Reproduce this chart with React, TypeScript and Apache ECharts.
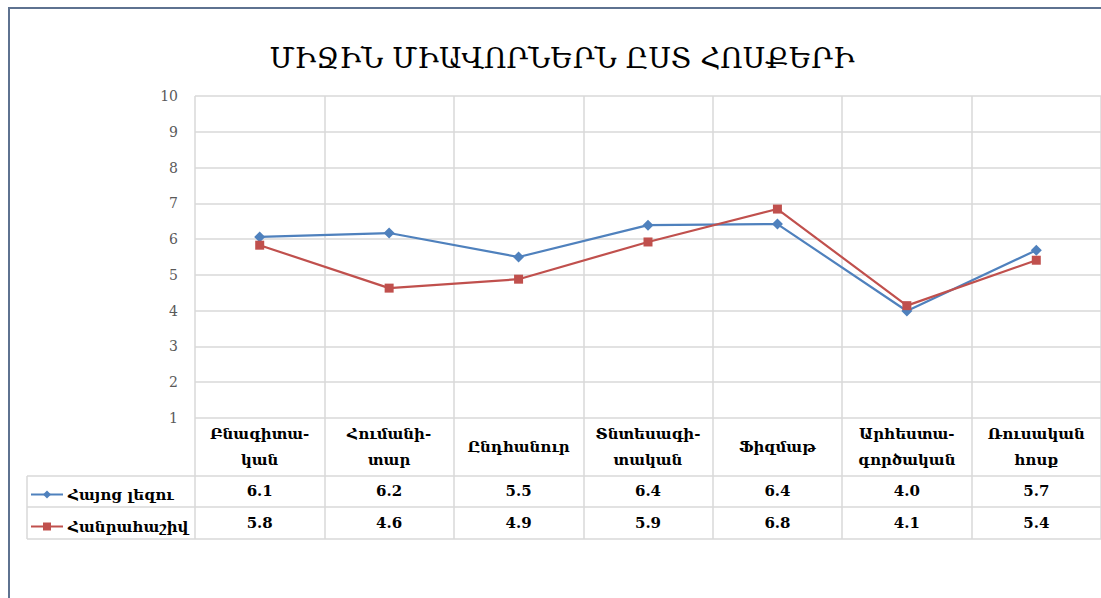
import React, { useEffect, useRef } from "react";
import * as echarts from "echarts";

const TITLE = "ՄԻՋԻՆ ՄԻԱՎՈՐՆԵՐՆ ԸՍՏ ՀՈՍՔԵՐԻ";
const categories = [
  "Բնագիտա-\nկան",
  "Հումանի-\nտար",
  "Ընդհանուր",
  "Տնտեսագի-\nտական",
  "Ֆիզմաթ",
  "Արհեստա-\nգործական",
  "Ռուսական\nհոսք",
];
const seriesNames = ["Հայոց լեզու", "Հանրահաշիվ"];
const armenianLang = [6.06, 6.17, 5.5, 6.39, 6.42, 3.99, 5.69];
const algebra = [5.83, 4.63, 4.88, 5.92, 6.84, 4.14, 5.41];
const yMin = 1;
const yMax = 10;
const yStep = 1;

const ARM_FONT = "'DejaVu Serif', serif";
const NUM_FONT = "'DejaVu Serif', serif";
const GRID_COLOR = "#D9D9D9";

export default function App() {
  const ref = useRef<HTMLDivElement>(null);
  useEffect(() => {
    document.body.style.margin = "0";
    const chart = echarts.init(ref.current!, null, { renderer: "svg" });
    const tableLines = [476, 507, 539].map((y) => ({
      type: "line",
      shape: { x1: 27, y1: y, x2: 1101, y2: y },
      style: { stroke: GRID_COLOR, lineWidth: 1.5 },
      silent: true,
    }));
    const valueAxis = (arr: number[], margin: number) => ({
      type: "category",
      data: categories,
      position: "bottom",
      boundaryGap: true,
      axisLine: { show: false },
      axisTick: { show: false },
      splitLine: { show: false },
      axisLabel: {
        interval: 0,
        margin,
        verticalAlign: "middle",
        fontFamily: NUM_FONT,
        fontWeight: "bold",
        fontSize: 15,
        color: "#000",
        formatter: (_v: string, i: number) => arr[i].toFixed(1),
      },
    });
    const legendText = { fontFamily: ARM_FONT, fontWeight: "bold", fontSize: 15, color: "#000" };
    chart.setOption({
      animation: false,
      backgroundColor: "#fff",
      title: {
        text: TITLE,
        left: 557,
        top: 39,
        textAlign: "center",
        textStyle: {
          fontFamily: ARM_FONT,
          fontWeight: "normal",
          fontSize: 28,
          color: "#000",
        },
      },
      legend: [
        {
          data: [seriesNames[0]],
          left: 25,
          top: 482,
          itemWidth: 32,
          itemHeight: 10,
          selectedMode: false,
          textStyle: legendText,
        },
        {
          data: [seriesNames[1]],
          left: 25,
          top: 514,
          itemWidth: 32,
          itemHeight: 10,
          selectedMode: false,
          textStyle: legendText,
        },
      ],
      grid: { left: 195, right: -3, top: 96, height: 322, containLabel: false },
      xAxis: [
        {
          type: "category",
          data: categories,
          boundaryGap: true,
          axisLine: { show: false },
          axisTick: {
            show: true,
            length: 121,
            lineStyle: { color: GRID_COLOR, width: 1.5 },
          },
          splitLine: { show: true, lineStyle: { color: GRID_COLOR, width: 1.5 } },
          axisLabel: {
            interval: 0,
            margin: 29,
            verticalAlign: "middle",
            lineHeight: 26,
            fontFamily: ARM_FONT,
            fontWeight: "bold",
            fontSize: 15,
            color: "#000",
          },
        },
        valueAxis(armenianLang, 73),
        valueAxis(algebra, 105),
      ],
      yAxis: {
        type: "value",
        min: yMin,
        max: yMax,
        interval: yStep,
        axisLine: { show: false },
        axisTick: { show: false },
        splitLine: { show: true, lineStyle: { color: GRID_COLOR, width: 1.5 } },
        axisLabel: {
          margin: 17,
          fontFamily: NUM_FONT,
          fontSize: 14,
          color: "#595959",
        },
      },
      series: [
        {
          name: seriesNames[0],
          type: "line",
          data: armenianLang,
          symbol: "diamond",
          symbolSize: 11,
          color: "#4F81BD",
          lineStyle: { width: 2.2, color: "#4F81BD" },
          itemStyle: { color: "#4F81BD" },
        },
        {
          name: seriesNames[1],
          type: "line",
          data: algebra,
          symbol: "rect",
          symbolSize: 9,
          color: "#C0504D",
          lineStyle: { width: 2.2, color: "#C0504D" },
          itemStyle: { color: "#C0504D" },
        },
      ],
      graphic: [
        ...tableLines,
        {
          type: "line",
          shape: { x1: 27, y1: 476, x2: 27, y2: 539 },
          style: { stroke: GRID_COLOR, lineWidth: 1.5 },
          silent: true,
        },
        {
          type: "line",
          shape: { x1: 9, y1: 8, x2: 1101, y2: 8 },
          style: { stroke: "#5E7290", lineWidth: 2 },
          silent: true,
        },
        {
          type: "line",
          shape: { x1: 9, y1: 7, x2: 9, y2: 598 },
          style: { stroke: "#5E7290", lineWidth: 2 },
          silent: true,
        },
      ],
    });
    return () => chart.dispose();
  }, []);
  return <div ref={ref} style={{ width: 1101, height: 598 }} />;
}
